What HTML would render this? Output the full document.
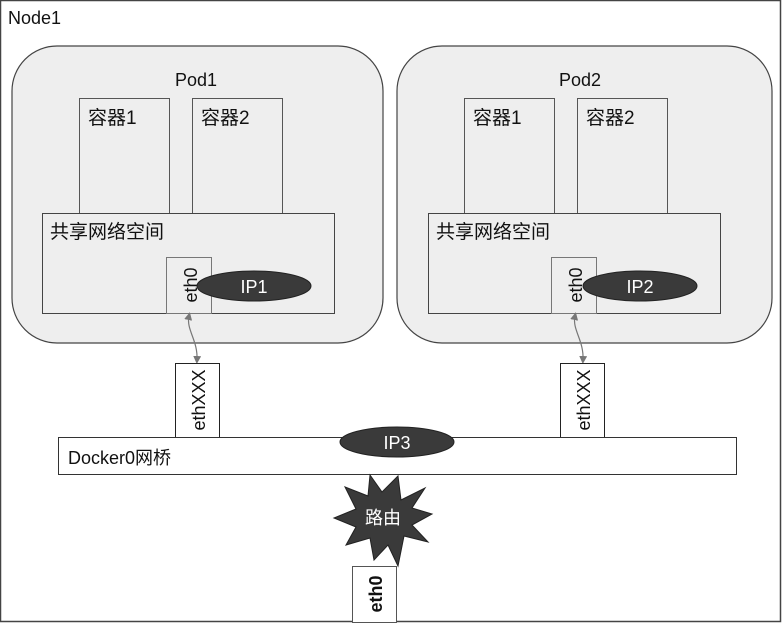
<!DOCTYPE html>
<html><head><meta charset="utf-8"><style>
html,body{margin:0;padding:0;background:#fff}
svg{display:block}
text{font-family:"Liberation Sans","Noto Sans CJK SC",sans-serif}
</style></head><body>
<svg width="782" height="623" viewBox="0 0 782 623" xmlns="http://www.w3.org/2000/svg">
<defs>
<marker id="ah" markerWidth="8" markerHeight="8" refX="4" refY="4" orient="auto-start-reverse" markerUnits="userSpaceOnUse"><path d="M0,0 L8,4 L0,8 z" fill="#777"/></marker>
</defs>
<rect x="0.5" y="0.5" width="780" height="621" fill="#fff" stroke="#444" stroke-width="1.5"/>
<text x="8" y="24" font-size="18" fill="#111">Node1</text>

<!-- Pod1 -->
<rect x="12" y="46" width="371" height="297" rx="45" fill="#eeeeee" stroke="#444" stroke-width="1.2"/>
<text x="196" y="86" font-size="18" text-anchor="middle" fill="#111">Pod1</text>
<rect x="79.5" y="98.5" width="90" height="115" fill="#eeeeee" stroke="#555"/>
<rect x="192.5" y="98.5" width="90" height="115" fill="#eeeeee" stroke="#555"/>
<text x="88" y="124" font-size="19" fill="#111">容器1</text>
<text x="201" y="124" font-size="19" fill="#111">容器2</text>
<rect x="42.5" y="213.5" width="292" height="100" fill="#eeeeee" stroke="#444"/>
<text x="50" y="238" font-size="19" fill="#111">共享网络空间</text>
<rect x="166.5" y="257.5" width="45" height="56" fill="#eeeeee" stroke="#777"/>
<text transform="translate(197,285) rotate(-90)" font-size="18" text-anchor="middle" fill="#111">eth0</text>
<ellipse cx="254" cy="286" rx="57" ry="15" fill="#3a3a3a" stroke="#222"/>
<text x="254" y="293" font-size="18" text-anchor="middle" fill="#fff">IP1</text>

<!-- Pod2 -->
<rect x="397" y="46" width="375" height="297" rx="45" fill="#eeeeee" stroke="#444" stroke-width="1.2"/>
<text x="580" y="86" font-size="18" text-anchor="middle" fill="#111">Pod2</text>
<rect x="464.5" y="98.5" width="90" height="115" fill="#eeeeee" stroke="#555"/>
<rect x="577.5" y="98.5" width="90" height="115" fill="#eeeeee" stroke="#555"/>
<text x="473" y="124" font-size="19" fill="#111">容器1</text>
<text x="586" y="124" font-size="19" fill="#111">容器2</text>
<rect x="428.5" y="213.5" width="292" height="100" fill="#eeeeee" stroke="#444"/>
<text x="436" y="238" font-size="19" fill="#111">共享网络空间</text>
<rect x="551.5" y="257.5" width="45" height="56" fill="#eeeeee" stroke="#777"/>
<text transform="translate(582,285) rotate(-90)" font-size="18" text-anchor="middle" fill="#111">eth0</text>
<ellipse cx="640" cy="286" rx="57" ry="15" fill="#3a3a3a" stroke="#222"/>
<text x="640" y="293" font-size="18" text-anchor="middle" fill="#fff">IP2</text>

<!-- connectors -->
<path d="M189,316 C186,330 198,340 197,360" fill="none" stroke="#777" stroke-width="1.2" marker-start="url(#ah)" marker-end="url(#ah)"/>
<path d="M575,316 C572,330 584,340 583,360" fill="none" stroke="#777" stroke-width="1.2" marker-start="url(#ah)" marker-end="url(#ah)"/>

<!-- ethXXX -->
<rect x="175.5" y="363.5" width="44" height="74" fill="#fff" stroke="#222"/>
<text transform="translate(205,400) rotate(-90)" font-size="18" text-anchor="middle" fill="#111">ethXXX</text>
<rect x="560.5" y="363.5" width="44" height="74" fill="#fff" stroke="#222"/>
<text transform="translate(590,400) rotate(-90)" font-size="18" text-anchor="middle" fill="#111">ethXXX</text>

<!-- bridge -->
<rect x="58.5" y="437.5" width="678" height="37" fill="#fff" stroke="#333"/>
<text x="68" y="464" font-size="18" fill="#111">Docker0网桥</text>
<ellipse cx="397" cy="442" rx="57" ry="15" fill="#3a3a3a" stroke="#222"/>
<text x="397" y="449" font-size="18" text-anchor="middle" fill="#fff">IP3</text>

<!-- star -->
<polygon points="398,476 401,500 425,488 412,508 432,514 412,525 428,542 404,536 398,566 388,545 374,560 370,538 346,545 356,527 334,518 356,509 345,487 368,496 370,475 382,492" fill="#3a3a3a" stroke="#222"/>
<text x="383" y="524" font-size="18" text-anchor="middle" fill="#fff">路由</text>

<rect x="352.5" y="566.5" width="44" height="56" fill="#fff" stroke="#555"/>
<text transform="translate(382,594) rotate(-90)" font-size="18" font-weight="bold" text-anchor="middle" fill="#111">eth0</text>
</svg>
</body></html>
